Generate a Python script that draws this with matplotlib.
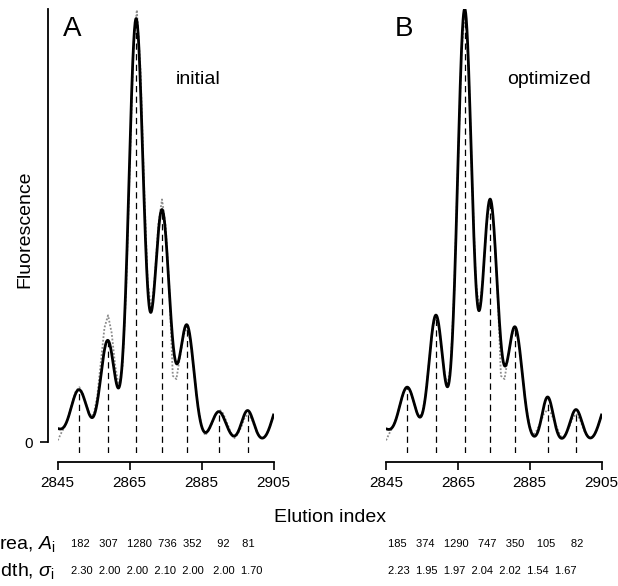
import numpy as np
import matplotlib
matplotlib.use("Agg")
import matplotlib.pyplot as plt

plt.rcParams['font.family'] = ['Liberation Sans', 'DejaVu Sans']
plt.rcParams['mathtext.fontset'] = 'custom'
plt.rcParams['mathtext.rm'] = 'Liberation Sans'
plt.rcParams['mathtext.it'] = 'Liberation Sans:italic'

# peak parameters (centres, areas/widths from the table)
pos_init = [2850.9, 2858.9, 2866.8, 2874.0, 2880.9, 2889.8, 2897.8]
area_init = [182, 307, 1280, 736, 352, 92, 81]
width_init = [2.30, 2.00, 2.00, 2.10, 2.00, 2.00, 1.70]

pos_opt = [2850.9, 2858.9, 2866.9, 2874.0, 2880.9, 2890.0, 2897.9]
area_opt = [185, 374, 1290, 747, 350, 105, 82]
width_opt = [2.23, 1.95, 1.97, 2.04, 2.02, 1.54, 1.67]

# neighbouring peaks just outside the window
edge_pos = [2843.9, 2906.7]
edge_height = [8.1, 23.4]
edge_width = [2.0, 2.0]

# measured trace (grey dots), one value per elution index 2845..2905
elution = np.arange(2845, 2906)
fluor = [1.0, 5.5, 9.6, 15.2, 23.3, 30.6, 33.1, 29.3, 22.1, 15.8,
         16.5, 27.7, 48.4, 69.0, 76.5, 65.9, 45.7, 33.5, 45.2, 90.9,
         164.6, 235.3, 260.9, 225.4, 155.2, 97.2, 79.4, 99.5, 131.7, 146.5,
         130.6, 93.9, 40.0, 38.0, 51.6, 64.5, 69.4, 59.6, 40.3, 21.3,
         9.7, 4.0, 7.0, 11.8, 17.2, 19.5, 17.2, 11.8, 6.5, 2.0,
         4.7, 8.9, 14.7, 17.0, 13.7, 7.8, 3.4, 2.3, 4.3, 9.4, 16.3]

xticks = [2845, 2865, 2885, 2905]

# spaces between table entries, as typed in the original figure
area_gaps_init = [3, 3, 2, 2, 5, 4]
width_gaps_init = [2, 2, 2, 2, 3, 2]
area_gaps_opt = [3, 3, 3, 3, 4, 5]
width_gaps_opt = [2, 2, 2, 2, 2, 2]


def peak_heights(area, width):
    return np.array(area) / (np.array(width) * np.sqrt(2 * np.pi))


def fit_curve(x, pos, area, width):
    y = np.zeros_like(x)
    for c, h, s in zip(pos, peak_heights(area, width), width):
        y += h * np.exp(-(x - c) ** 2 / (2 * s ** 2))
    for c, h, s in zip(edge_pos, edge_height, edge_width):
        y += h * np.exp(-(x - c) ** 2 / (2 * s ** 2))
    return y


def row_text(items, gaps):
    s = items[0]
    for it, g in zip(items[1:], gaps):
        s += ' ' * g + it
    return s


W, H = 618, 586
fig = plt.figure(figsize=(W / 100, H / 100), dpi=100)


def px_axes(left, top, right, bottom):
    return fig.add_axes([left / W, 1 - bottom / H, (right - left) / W, (bottom - top) / H])


axA = px_axes(57.7, 9, 273.5, 453)
axB = px_axes(386, 9, 601.5, 453)

y_hi = 261.5
y_lo = -11 / (433 / y_hi)
xs = np.linspace(2845, 2905, 901)

panels = [(axA, pos_init, area_init, width_init, 'A', 'initial'),
          (axB, pos_opt, area_opt, width_opt, 'B', 'optimized')]

for ax, pos, area, width, letter, name in panels:
    ax.plot(elution, fluor, color='0.55', lw=1.3, ls=(0, (1, 1)), zorder=1)
    ax.vlines(pos, y_lo, peak_heights(area, width), colors='k', lw=0.9,
              linestyles=(0, (5, 3.5)), zorder=2)
    ax.plot(xs, fit_curve(xs, pos, area, width), color='k', lw=2.0, zorder=3)
    ax.set_xlim(2845, 2905)
    ax.set_ylim(y_lo, y_hi)
    for side in ['top', 'right']:
        ax.spines[side].set_visible(False)
    ax.spines['bottom'].set_position(('outward', 6.5))
    ax.spines['bottom'].set_bounds(2845, 2905)
    ax.spines['bottom'].set_linewidth(1.3)
    ax.set_xticks(xticks)
    ax.tick_params(axis='x', length=6, width=1.2, pad=4, labelsize=11)
    ax.patch.set_alpha(0)

axA.spines['left'].set_position(('outward', 6.8))
axA.spines['left'].set_bounds(0, y_hi)
axA.spines['left'].set_linewidth(1.3)
axA.set_yticks([0])
axA.tick_params(axis='y', length=6, width=1.2, pad=5, labelsize=11)
axB.spines['left'].set_visible(False)
axB.set_yticks([])

fig.text(63 / W, 1 - 16 / H, 'A', fontsize=20, ha='left', va='top')
fig.text(395 / W, 1 - 16 / H, 'B', fontsize=20, ha='left', va='top')
fig.text(176 / W, 1 - 84 / H, 'initial', fontsize=14, ha='left', va='baseline')
fig.text(507 / W, 1 - 84 / H, 'optimized', fontsize=14, ha='left', va='baseline')

fig.text(25 / W, 1 - 229 / H, 'Fluorescence', fontsize=14, rotation=90,
         ha='center', va='center')
fig.text(330 / W, 1 - 517 / H, 'Elution index', fontsize=14, ha='center', va='center')

# row labels run off the left edge in the original
fig.text(55 / W, 1 - 544 / H, r'Area, $A_\mathrm{i}$', fontsize=14, ha='right', va='center')
fig.text(55 / W, 1 - 571 / H, r'Width, $\sigma_\mathrm{i}$', fontsize=14, ha='right', va='center')

rows = [(71, area_init, width_init, area_gaps_init, width_gaps_init),
        (388, area_opt, width_opt, area_gaps_opt, width_gaps_opt)]
for x0, area, width, ag, wg in rows:
    fig.text(x0 / W, 1 - 544 / H, row_text([str(a) for a in area], ag),
             fontsize=8, ha='left', va='center')
    fig.text(x0 / W, 1 - 571 / H, row_text([f'{w:.2f}' for w in width], wg),
             fontsize=8, ha='left', va='center')

fig.savefig('out.png', dpi=100)
